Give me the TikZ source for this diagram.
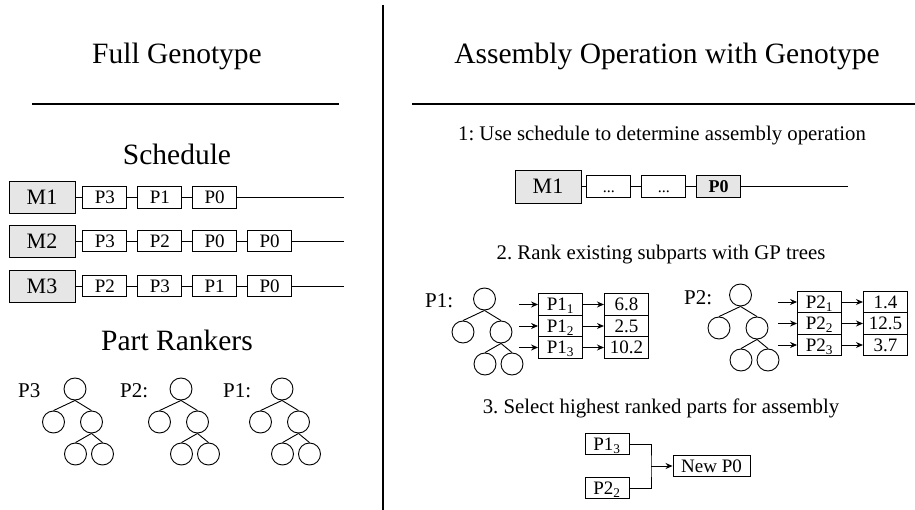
\documentclass[tikz,border=0pt]{standalone}
\usepackage{fontspec}
\setmainfont{Liberation Serif}
\usepackage{tikz}
\usetikzlibrary{positioning,arrows.meta}
\definecolor{boxgray}{HTML}{E6E6E6}
\newcommand{\fsz}[1]{\fontsize{#1}{#1}\selectfont}
\frenchspacing
\tikzset{
  mnode/.style={
    draw, fill=boxgray, minimum width=66pt, minimum height=32pt,
    inner sep=0pt, font=\fsz{22}, line width=0.9pt
  },
  pnode/.style={
    draw, fill=white, minimum width=44pt, minimum height=21.5pt,
    inner sep=0pt, text height=12.5pt, text depth=0pt,
    font=\fsz{19}, line width=0.9pt
  },
  tnode/.style={
    circle, draw, minimum size=22pt, inner sep=0pt, line width=0.9pt
  },
  link/.style={line width=0.9pt},
  arr/.style={
    -{Stealth[length=7pt,width=6pt]}, line width=0.9pt
  },
  rulebar/.style={line width=1.6pt},
  bigtitle/.style={font=\fsz{29.5}, anchor=base},
  midtitle/.style={font=\fsz{29.5}, anchor=base},
  steptext/.style={font=\fsz{20.8}, anchor=base},
  treelabel/.style={font=\fsz{21}, anchor=base west, inner sep=0pt}
}
% arbol GP: nombre, x, y de la raiz
\newcommand{\gptree}[3]{%
  \node[tnode] (#1r) at (#2,#3) {};
  \node[tnode] (#1a) at (#2-21.5,#3+33) {};
  \node[tnode] (#1b) at (#2+16.5,#3+33) {};
  \node[tnode] (#1c) at (#2+0.5,#3+65) {};
  \node[tnode] (#1d) at (#2+27.5,#3+65) {};
  \draw[link] (#1r.south) -- (#1a.north);
  \draw[link] (#1r.south) -- (#1b.north);
  \draw[link] (#1b.south) -- (#1c.north);
  \draw[link] (#1b.south) -- (#1d.north);
}

\begin{document}
\begin{tikzpicture}[x=1pt,y=-1pt]
\useasboundingbox (0,0) rectangle (915,510);

% titulos
\node[bigtitle] (gtitle) at (177,64) {Full Genotype};
\node[bigtitle] (atitle) at (667,64) {Assembly Operation with Genotype};
\draw[rulebar] (32,104) -- (339,104);
\draw[rulebar] (412,104) -- (915,104);
\draw[rulebar] (383,5) -- (383,510);

% calendario
\node[midtitle] (sched) at (177,165) {Schedule};
\node[mnode] (m1) at (42,197.5) {M1};
\node[pnode, right=7pt of m1] (m1a) {P3};
\node[pnode, right=10pt of m1a] (m1b) {P1};
\node[pnode, right=10pt of m1b] (m1c) {P0};
\coordinate (m1e) at (344,197.5);
\node[mnode] (m2) at (42,241) {M2};
\node[pnode, right=7pt of m2] (m2a) {P3};
\node[pnode, right=10pt of m2a] (m2b) {P2};
\node[pnode, right=10pt of m2b] (m2c) {P0};
\node[pnode, right=10pt of m2c] (m2d) {P0};
\coordinate (m2e) at (344,241);
\node[mnode] (m3) at (42,286) {M3};
\node[pnode, right=7pt of m3] (m3a) {P2};
\node[pnode, right=10pt of m3a] (m3b) {P3};
\node[pnode, right=10pt of m3b] (m3c) {P1};
\node[pnode, right=10pt of m3c] (m3d) {P0};
\coordinate (m3e) at (344,286);
\draw[link] (m1) -- (m1a) (m1a) -- (m1b) (m1b) -- (m1c) (m1c) -- (m1e);
\draw[link] (m2) -- (m2a) (m2a) -- (m2b) (m2b) -- (m2c) (m2c) -- (m2d) (m2d) -- (m2e);
\draw[link] (m3) -- (m3a) (m3a) -- (m3b) (m3b) -- (m3c) (m3c) -- (m3d) (m3d) -- (m3e);

% rankers
\node[midtitle] (rank) at (177,350) {Part Rankers};
\node[treelabel] (l3) at (18,397) {P3};
\node[treelabel] (l2) at (120,397) {P2:};
\node[treelabel] (l1) at (223,397) {P1:};
\gptree{ta}{75}{389}
\gptree{tb}{181}{389}
\gptree{tc}{282}{389}

% paso 1
\node[steptext] (s1) at (662,141) {1: Use schedule to determine assembly operation};
\node[mnode, minimum height=33pt] (om) at (548,186.5) {M1};
\node[pnode, font=\fsz{16}, right=5pt of om] (oa) {...};
\node[pnode, font=\fsz{16}, right=10pt of oa] (ob) {...};
\node[pnode, fill=boxgray, font=\fsz{18}\bfseries, right=10pt of ob] (oc) {P0};
\coordinate (oe) at (848,186.5);
\draw[link] (om) -- (oa) (oa) -- (ob) (ob) -- (oc) (oc) -- (oe);

% paso 2
\node[steptext] (s2) at (661,260) {2. Rank existing subparts with GP trees};
\node[treelabel] (r1) at (425,308) {P1:};
\gptree{tr}{484.5}{299}
\node[pnode] (a1) at (560.5,304.5) {P1\textsubscript{1}};
\node[pnode, below=-0.9pt of a1] (a2) {P1\textsubscript{2}};
\node[pnode, below=-0.9pt of a2] (a3) {P1\textsubscript{3}};
\node[pnode, right=21pt of a1] (va1) {6.8};
\node[pnode, right=21pt of a2] (va2) {2.5};
\node[pnode, right=21pt of a3] (va3) {10.2};
\coordinate[left=19pt of a1] (ia1);
\coordinate[left=19pt of a2] (ia2);
\coordinate[left=19pt of a3] (ia3);
\draw[arr] (ia1) -- (a1);
\draw[arr] (ia2) -- (a2);
\draw[arr] (ia3) -- (a3);
\draw[arr] (a1) -- (va1);
\draw[arr] (a2) -- (va2);
\draw[arr] (a3) -- (va3);

\node[treelabel] (r2) at (684,305) {P2:};
\gptree{ts}{740.5}{295}
\node[pnode] (b1) at (819.5,302) {P2\textsubscript{1}};
\node[pnode, below=-0.9pt of b1] (b2) {P2\textsubscript{2}};
\node[pnode, below=-0.9pt of b2] (b3) {P2\textsubscript{3}};
\node[pnode, right=21pt of b1] (vb1) {1.4};
\node[pnode, right=21pt of b2] (vb2) {12.5};
\node[pnode, right=21pt of b3] (vb3) {3.7};
\coordinate[left=19pt of b1] (ib1);
\coordinate[left=19pt of b2] (ib2);
\coordinate[left=19pt of b3] (ib3);
\draw[arr] (ib1) -- (b1);
\draw[arr] (ib2) -- (b2);
\draw[arr] (ib3) -- (b3);
\draw[arr] (b1) -- (vb1);
\draw[arr] (b2) -- (vb2);
\draw[arr] (b3) -- (vb3);

% paso 3
\node[steptext] (s3) at (661,413) {3. Select highest ranked parts for assembly};
\node[pnode] (c1) at (607,444) {P1\textsubscript{3}};
\node[pnode] (c2) at (607,488) {P2\textsubscript{2}};
\node[pnode, minimum width=77pt] (np) at (711.5,466) {New P0};
\coordinate (cj) at (651,466);
\draw[link] (c1) -| (cj) |- (c2);
\draw[arr] (cj) -- (np);
\end{tikzpicture}
\end{document}
